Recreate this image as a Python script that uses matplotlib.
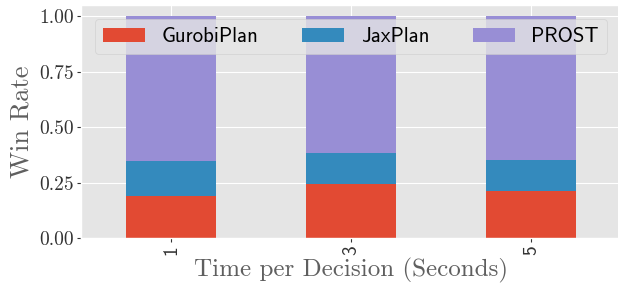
import matplotlib.pyplot as plt
import numpy as np

# win rate per planner, stacked
times = ['1', '3', '5']
gurobi = [0.19, 0.245, 0.213]
jax = [0.16, 0.138, 0.139]
prost = [0.65, 0.617, 0.648]

plt.style.use('ggplot')
plt.rcParams['axes.formatter.use_mathtext'] = True

fig = plt.figure(figsize=(6.18, 2.89), dpi=100)
ax = fig.add_axes([0.131, 0.175, 0.874, 0.808])

x = np.arange(len(times))
w = 0.5
ax.bar(x, gurobi, w, label='GurobiPlan', color='#E24A33')
ax.bar(x, jax, w, bottom=gurobi, label='JaxPlan', color='#348ABD')
ax.bar(x, prost, w, bottom=np.add(gurobi, jax), label='PROST', color='#988ED5')

ax.set_xlim(-0.5, 2.5)
ax.set_ylim(0, 1.05)
ax.set_yticks([0, 0.25, 0.5, 0.75, 1.0])
ax.set_yticklabels(['0.00', '0.25', '0.50', '0.75', '1.00'], fontfamily='cmr10', fontsize=14, color='#222222')
ax.set_xticks(x)
ax.set_xticklabels(times, rotation=90, fontfamily='cmss10', fontsize=14, color='#222222')
ax.tick_params(axis='both', colors='#333333', length=3, pad=2)

ax.set_xlabel('Time per Decision (Seconds)', fontfamily='cmr10', fontsize=18, color='#5f5f5f', labelpad=2)
ax.set_ylabel('Win Rate', fontfamily='cmr10', fontsize=19, color='#5f5f5f', labelpad=4)

ax.legend(ncol=3, loc='upper center', prop={'family': 'cmss10', 'size': 15},
          columnspacing=2.1, bbox_to_anchor=(0.5, 0.985))

fig.savefig('out.png', dpi=100)
